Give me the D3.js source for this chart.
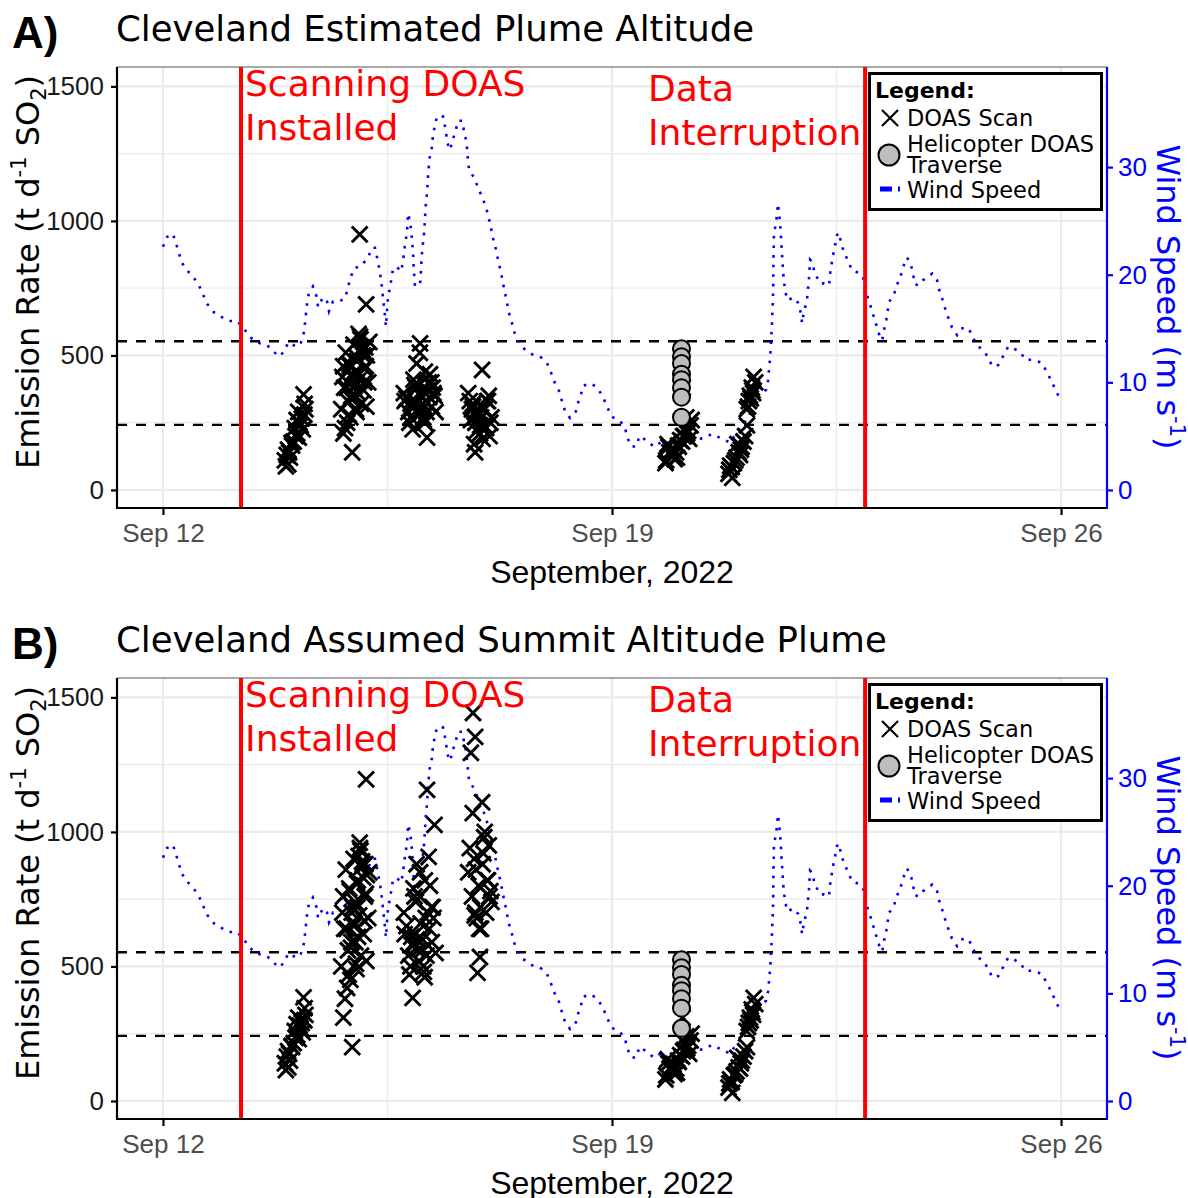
<!DOCTYPE html>
<html>
<head>
<meta charset="utf-8">
<script src="https://cdn.jsdelivr.net/npm/d3@7"></script>
<style>
  body { margin: 0; background: #fff; }
  svg { display: block; }
</style>
</head>
<body>
<svg id="chart" width="1188" height="1198"></svg>
<script>
// ---- Wind speed record (hours after 12 Sep 2022 00:00 UTC, m/s) ----
const windHour = [0,1.5,3.7,4.9,7.1,9.4,11.6,13.5,16.5,19.1,
  21.7,24.7,27.7,30.3,32.6,35.2,38.5,40.8,43.0,45.3,
  46.8,50.1,51.6,52.8,53.9,54.6,56.1,57.6,58.0,59.9,
  61.4,62.1,63.6,65.9,68.1,69.2,70.0,71.5,74.1,76.7,
  78.2,79.3,80.1,81.2,81.9,82.3,83.1,83.4,84.2,85.0,
  86.1,87.6,89.1,89.8,90.6,91.3,91.7,92.1,92.8,93.2,
  93.6,93.8,94.3,96.2,96.5,96.9,97.7,98.4,98.8,99.2,
  99.9,100.7,101.0,101.8,102.5,103.7,104.8,105.2,105.9,106.3,
  107.4,108.5,109.6,110.4,111.9,112.6,113.4,113.8,114.1,114.5,
  116.4,117.9,119.4,120.9,121.6,122.7,123.1,124.2,125.0,125.7,
  126.5,127.2,128.0,128.7,129.5,130.6,131.4,132.8,134.7,138.1,
  141.1,143.7,145.2,146.7,148.6,149.3,150.5,152.3,154.5,155.3,
  156.4,157.2,160.2,162.4,164.6,165.8,168.0,171.0,172.9,173.6,
  175.5,177.4,178.1,181.1,183.7,186.7,190.5,194.2,198.3,202.1,
  205.4,208.8,212.2,214.8,218.9,221.5,223.8,225.6,226.4,227.1,
  227.5,227.9,228.3,228.4,228.6,229.4,230.1,230.9,231.6,232.0,
  232.4,232.8,233.9,235.7,237.6,238.7,239.1,239.5,240.2,241.0,
  241.7,242.1,243.2,243.6,245.8,247.0,249.2,249.6,250.7,251.5,
  252.2,253.0,253.7,254.8,256.3,257.8,260.1,261.9,263.4,264.6,
  265.7,266.8,267.9,269.1,269.8,270.6,271.7,273.5,274.3,275.8,
  276.9,278.4,279.5,280.7,281.0,282.5,284.4,287.8,289.6,290.4,
  291.5,292.6,293.7,295.2,297.1,298.6,300.9,302.7,303.9,306.1,
  308.7,310.2,312.5,314.7,316.2,318.1,321.1,322.6,325.6,328.9,
  330.8,332.7,334.2,336.0];
const windSpeed = [22.6,23.5,23.8,22.9,21.1,20.3,19.7,19.0,17.3,16.5,
  16.1,15.7,15.7,15.0,14.2,13.7,13.5,13.1,12.4,12.8,
  13.7,13.3,13.7,14.7,17.3,18.3,18.9,17.9,17.0,17.9,
  17.5,16.6,17.5,17.5,17.8,18.8,19.6,20.6,20.8,21.6,
  22.5,22.5,21.6,20.2,18.9,17.9,16.1,15.2,17.9,18.9,
  20.6,20.7,20.3,21.2,22.9,23.9,25.7,25.3,24.3,23.2,
  22.0,20.7,18.9,19.2,20.3,22.0,23.9,26.7,27.6,29.4,
  31.1,31.9,33.0,33.9,34.7,34.8,34.7,34.2,33.3,32.3,
  31.6,32.6,33.5,34.3,34.3,33.4,32.5,31.6,30.7,29.8,
  29.0,28.1,27.2,26.3,25.5,24.5,23.7,22.8,21.8,21.0,
  20.2,19.2,18.3,17.4,16.4,15.5,14.7,13.9,13.2,12.6,
  12.4,11.8,10.9,9.9,9.0,8.2,7.3,6.7,7.3,8.1,
  8.9,9.7,9.9,9.5,8.7,7.9,6.8,6.4,5.8,4.9,
  4.0,4.1,5.0,4.6,4.0,4.5,3.7,4.2,4.7,4.8,
  5.2,4.8,4.4,5.4,6.7,8.1,9.0,9.3,10.2,12.1,
  13.7,15.8,18.4,21.2,23.9,24.8,26.6,24.8,22.0,20.3,
  19.3,18.4,17.6,17.9,17.4,16.4,15.5,16.1,16.9,17.8,
  19.7,21.4,21.1,20.3,19.2,19.2,19.0,20.1,21.8,22.8,
  23.7,23.9,22.9,22.1,21.3,20.4,20.2,19.8,18.1,17.2,
  16.3,15.4,14.5,13.9,14.9,15.8,17.5,18.1,18.9,19.7,
  20.7,21.6,21.1,20.2,19.2,19.0,19.5,20.1,19.5,18.6,
  17.8,16.9,16.1,15.1,14.4,15.0,15.1,14.5,13.7,13.1,
  12.4,11.5,11.6,12.6,13.3,13.2,12.7,12.1,12.1,11.8,
  10.9,10.0,9.1,8.4];

// ---- Scanning DOAS emission rates (hours after 12 Sep 00:00, t/d SO2) ----
const scanHour = [
  46.0,45.6,46.9,46.3,47.5,46.8,48.3,47.2,48.9,49.6,48.1,50.2,49.3,50.8,51.5,50.0,52.3,51.1,52.9,53.3,51.9,53.0,50.6,52.6,
  67.1,68.4,66.7,69.9,67.8,71.3,68.9,70.5,72.6,69.2,73.4,70.1,74.8,71.7,72.2,75.5,73.0,68.1,76.3,74.1,
  70.8,71.0,73.9,69.5,75.1,72.9,67.5,76.8,74.5,70.3,75.9,72.4,73.7,68.7,73.6,71.9,74.3,76.1,73.2,75.3,
  69.7,72.0,77.2,70.6,74.9,71.4,76.0,67.4,75.7,72.8,
  90.4,91.8,90.1,93.0,92.2,94.6,91.1,95.3,93.7,92.6,96.4,93.4,97.2,94.1,95.8,98.0,92.9,99.1,96.9,94.9,
  97.6,99.6,96.1,100.4,98.6,96.2,101.2,95.0,99.9,97.9,98.8,100.9,93.9,101.6,97.4,99.4,94.4,102.0,98.3,100.6,
  114.2,115.6,116.9,114.8,118.1,117.4,116.0,119.6,115.2,116.8,120.4,118.7,116.4,121.3,119.0,
  118.6,117.7,121.9,119.4,122.5,115.9,120.9,117.1,119.9,122.2,118.3,121.6,120.2,116.6,122.9,
  188.3,189.5,188.0,190.6,189.1,191.4,190.2,188.8,192.3,191.0,193.5,192.0,194.6,193.0,195.3,
  194.2,194.4,196.1,195.8,196.9,197.4,192.7,196.5,197.8,195.0,
  211.6,213.0,212.2,214.6,211.9,215.4,213.6,216.5,212.8,215.9,214.1,217.2,216.2,217.8,218.5,214.9,
  219.2,218.4,220.3,219.6,221.0,218.9,220.8,221.6,219.9,220.5];
// Estimated plume altitude
const scanRateA = [
  88,110,95,130,120,150,165,140,180,200,175,210,230,195,240,260,225,250,280,300,265,320,290,355,
  420,510,300,460,380,540,250,350,480,330,410,270,520,390,300,450,360,230,500,320,
  140,430,560,280,370,490,210,400,530,340,460,290,570,380,950,440,520,310,580,400,
  470,350,550,420,500,380,690,460,530,440,
  330,290,360,310,250,380,340,300,410,270,350,225,320,390,280,440,330,370,300,470,
  260,345,510,400,290,545,360,320,430,250,195,380,310,350,270,400,330,290,360,310,
  360,300,250,330,280,220,310,190,260,140,300,240,170,330,270,
  210,290,350,446,250,320,230,280,300,200,260,330,240,290,270,
  110,140,100,125,160,115,135,170,120,150,185,140,200,160,230,
  180,380,210,270,190,240,165,220,260,200,
  60,45,90,120,75,140,100,160,85,130,110,180,150,200,240,170,
  330,300,380,350,420,310,360,400,340,370];
// Assumed summit-altitude plume
const scanRateB = [
  115,140,125,165,150,185,200,175,215,235,205,245,260,230,270,285,255,280,300,320,290,345,310,385,
  700,860,500,780,640,900,420,590,810,560,690,450,880,660,510,760,610,380,840,540,
  200,720,930,470,620,820,310,680,890,570,770,490,940,640,960,740,870,520,910,670,
  790,590,850,700,830,650,1195,760,880,720,
  620,540,700,580,470,740,650,560,790,500,660,383,600,760,520,820,610,700,560,880,
  480,640,760,720,540,850,680,600,800,460,1156,720,580,1026,500,907,620,550,680,590,
  850,760,700,940,800,680,1442,880,1294,1353,1000,720,900,820,640,
  535,476,950,1110,780,1070,700,860,920,760,640,820,980,690,740,
  95,120,80,110,140,100,125,155,105,135,170,120,185,145,215,
  165,310,195,240,175,225,150,205,250,190,
  50,30,80,110,65,125,95,150,70,120,100,165,140,185,200,160,
  290,260,340,310,383,275,320,360,300,330];

// ---- Helicopter DOAS traverses ----
const heliHour = [194.0,194.0,194.0,194.0,194.0,194.0,194.0,194.0];
const heliRate = [525,495,470,430,410,380,345,270];

// ---- Reference levels, events and axis ticks ----
const thresholdRate = [553, 242];
const eventHour = [29.2, 262.7];          // scanner installed / data interruption
const rateTicks = [0, 500, 1000, 1500];
const rateMinor = [250, 750, 1250];
const windTicks = [0, 10, 20, 30];
const dateTicks = ["2022-09-12", "2022-09-19", "2022-09-26"];
const dateMinor = ["2022-09-15T12:00Z", "2022-09-22T12:00Z"];
const windToRate = 40;                     // secondary axis factor

const panels = [
  { tag: "A)", title: "Cleveland Estimated Plume Altitude", rates: scanRateA },
  { tag: "B)", title: "Cleveland Assumed Summit Altitude Plume", rates: scanRateB }
];

// ---- Layout ----
const START = Date.UTC(2022, 8, 12);
const at = h => new Date(START + h * 3600e3);
const L = 117, R = 1107, T = 67, B = 508, STEP = 611;
const SANS = "'Liberation Sans', Arial, sans-serif";
const DEJA = "'DejaVu Sans', Verdana, sans-serif";
const BLUE = "#0000ff";

const svg = d3.select("#chart");
const x = d3.scaleUtc().domain([at(-17.2), at(353.2)]).range([L, R]);
const y = d3.scaleLinear().domain([-67, 1572]).range([B, T]);
const yWind = d3.scaleLinear().domain([-67 / windToRate, 1572 / windToRate]).range([B, T]);

const windLine = d3.line()
  .x((d, i) => x(at(windHour[i])))
  .y(d => y(d * windToRate));

const crossPath = d3.symbol(d3.symbolTimes, 165)();
const legendCross = d3.symbol(d3.symbolTimes, 170)();

panels.forEach((p, pi) => {
  const g = svg.append("g").attr("transform", `translate(0,${pi * STEP})`);

  // panel background and grid
  g.append("rect").attr("x", L).attr("y", T).attr("width", R - L).attr("height", B - T).attr("fill", "#fff");
  const grid = g.append("g").attr("stroke", "#ebebeb");
  grid.selectAll(".hmin").data(rateMinor).join("line")
    .attr("x1", L).attr("x2", R).attr("y1", d => y(d)).attr("y2", d => y(d)).attr("stroke-width", 1.3);
  grid.selectAll(".vmin").data(dateMinor).join("line")
    .attr("y1", T).attr("y2", B).attr("x1", d => x(new Date(d))).attr("x2", d => x(new Date(d))).attr("stroke-width", 1.3);
  grid.selectAll(".hmaj").data(rateTicks).join("line")
    .attr("x1", L).attr("x2", R).attr("y1", d => y(d)).attr("y2", d => y(d)).attr("stroke-width", 2.2);
  grid.selectAll(".vmaj").data(dateTicks).join("line")
    .attr("y1", T).attr("y2", B).attr("x1", d => x(new Date(d))).attr("x2", d => x(new Date(d))).attr("stroke-width", 2.2);

  // threshold lines
  g.selectAll(".thr").data(thresholdRate).join("line")
    .attr("x1", L).attr("x2", R).attr("y1", d => y(d)).attr("y2", d => y(d))
    .attr("stroke", "#000").attr("stroke-width", 2.4).attr("stroke-dasharray", "10,9");

  // wind speed (dotted)
  g.append("path").attr("d", windLine(windSpeed))
    .attr("fill", "none").attr("stroke", BLUE).attr("stroke-width", 2.6)
    .attr("stroke-dasharray", "2.6,7");

  // event markers
  g.selectAll(".evt").data(eventHour).join("line")
    .attr("x1", d => x(at(d))).attr("x2", d => x(at(d))).attr("y1", T).attr("y2", B)
    .attr("stroke", "#ff0000").attr("stroke-width", 4);

  // scanning DOAS crosses
  g.append("g").selectAll("path").data(p.rates).join("path")
    .attr("d", crossPath)
    .attr("transform", (d, i) => `translate(${x(at(scanHour[i]))},${y(d)})`)
    .attr("fill", "none").attr("stroke", "#000").attr("stroke-width", 2.9);

  // helicopter traverses
  g.append("g").selectAll("circle").data(heliRate).join("circle")
    .attr("cx", (d, i) => x(at(heliHour[i]))).attr("cy", d => y(d)).attr("r", 8.5)
    .attr("fill", "#bdbdbd").attr("stroke", "#000").attr("stroke-width", 2);

  // panel frame
  g.append("line").attr("x1", L).attr("x2", R).attr("y1", T).attr("y2", T).attr("stroke", "#555").attr("stroke-width", 1.2);
  g.append("line").attr("x1", L).attr("x2", L).attr("y1", T).attr("y2", B + 1).attr("stroke", "#000").attr("stroke-width", 2.2);
  g.append("line").attr("x1", L - 1).attr("x2", R).attr("y1", B).attr("y2", B).attr("stroke", "#000").attr("stroke-width", 2.2);
  g.append("line").attr("x1", R).attr("x2", R).attr("y1", T).attr("y2", B + 1).attr("stroke", BLUE).attr("stroke-width", 2.2);

  // axes
  const ax = g.append("g").attr("transform", `translate(0,${B})`)
    .call(d3.axisBottom(x).tickValues(dateTicks.map(d => new Date(d + "T00:00Z")))
      .tickFormat(d3.utcFormat("%b %d")).tickSize(7).tickPadding(9).tickSizeOuter(0));
  ax.select(".domain").remove();
  ax.selectAll("line").attr("stroke", "#000").attr("stroke-width", 2.2);
  ax.selectAll("text").attr("font-family", SANS).attr("font-size", 26).attr("fill", "#4d4d4d");

  const ay = g.append("g").attr("transform", `translate(${L},0)`)
    .call(d3.axisLeft(y).tickValues(rateTicks).tickFormat(d3.format("d"))
      .tickSize(6).tickPadding(7).tickSizeOuter(0));
  ay.select(".domain").remove();
  ay.selectAll("line").attr("stroke", "#000").attr("stroke-width", 2.2);
  ay.selectAll("text").attr("font-family", SANS).attr("font-size", 26).attr("fill", "#1a1a1a");

  const aw = g.append("g").attr("transform", `translate(${R},0)`)
    .call(d3.axisRight(yWind).tickValues(windTicks).tickFormat(d3.format("d"))
      .tickSize(6).tickPadding(5).tickSizeOuter(0));
  aw.select(".domain").remove();
  aw.selectAll("line").attr("stroke", BLUE).attr("stroke-width", 2.2);
  aw.selectAll("text").attr("font-family", SANS).attr("font-size", 26).attr("fill", BLUE);

  // titles
  g.append("text").attr("x", 12).attr("y", 48).text(p.tag)
    .attr("font-family", SANS).attr("font-weight", "bold").attr("font-size", 44).attr("fill", "#000");
  g.append("text").attr("x", 116).attr("y", 41).text(p.title)
    .attr("font-family", DEJA).attr("font-size", 35.5).attr("fill", "#000");

  g.append("text").attr("x", (L + R) / 2).attr("y", 583).attr("text-anchor", "middle")
    .attr("font-family", SANS).attr("font-size", 32).attr("fill", "#000").text("September, 2022");

  const yt = g.append("text").attr("transform", "translate(39,272) rotate(-90)")
    .attr("text-anchor", "middle").attr("font-family", DEJA).attr("font-size", 32).attr("fill", "#000");
  yt.append("tspan").text("Emission Rate (t d");
  yt.append("tspan").attr("font-size", 21).attr("dy", -13).text("-1");
  yt.append("tspan").attr("dy", 13).text(" SO");
  yt.append("tspan").attr("font-size", 21).attr("dy", 7).text("2");
  yt.append("tspan").attr("dy", -7).text(")");

  const wt = g.append("text").attr("transform", "translate(1157,297) rotate(90)")
    .attr("text-anchor", "middle").attr("font-family", DEJA).attr("font-size", 32).attr("fill", BLUE);
  wt.append("tspan").text("Wind Speed (m s");
  wt.append("tspan").attr("font-size", 21).attr("dy", -13).text("-1");
  wt.append("tspan").attr("dy", 13).text(")");

  // event annotations
  const note = (tx, ty, s) => g.append("text").attr("x", tx).attr("y", ty).text(s)
    .attr("font-family", DEJA).attr("font-size", 36).attr("fill", "#ff0000");
  note(x(at(eventHour[0])) + 4, 96, "Scanning DOAS");
  note(x(at(eventHour[0])) + 4, 140, "Installed");
  note(648, 101, "Data");
  note(648, 145, "Interruption");

  // legend
  const lg = g.append("g");
  lg.append("rect").attr("x", 869.5).attr("y", 73.5).attr("width", 232).attr("height", 136)
    .attr("fill", "#fff").attr("stroke", "#000").attr("stroke-width", 3);
  const lt = (tx, ty, s, bold) => lg.append("text").attr("x", tx).attr("y", ty).text(s)
    .attr("font-family", DEJA).attr("font-size", bold ? 22 : 22.5)
    .attr("font-weight", bold ? "bold" : "normal").attr("fill", "#000");
  lt(875, 98, "Legend:", true);
  lg.append("path").attr("d", legendCross).attr("transform", "translate(890,118)")
    .attr("fill", "none").attr("stroke", "#000").attr("stroke-width", 2.2);
  lt(907, 126, "DOAS Scan");
  lg.append("circle").attr("cx", 889).attr("cy", 155).attr("r", 10.5)
    .attr("fill", "#bdbdbd").attr("stroke", "#000").attr("stroke-width", 2);
  lt(907, 152, "Helicopter DOAS");
  lt(907, 173, "Traverse");
  lg.append("line").attr("x1", 880).attr("x2", 904).attr("y1", 189).attr("y2", 189)
    .attr("stroke", BLUE).attr("stroke-width", 5).attr("stroke-dasharray", "12,6,2,20");
  lt(907, 198, "Wind Speed");
});
</script>
</body>
</html>
